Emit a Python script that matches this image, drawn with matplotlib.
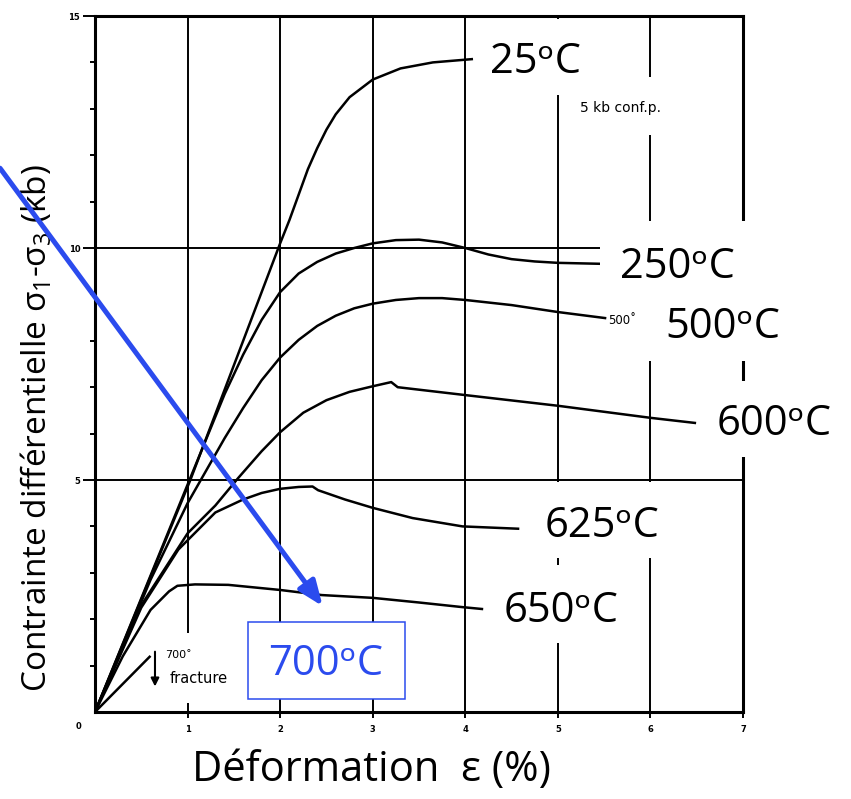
"Courbes contrainte-déformation à 5 kb de pression de confinement"

import matplotlib
matplotlib.use('Agg')
import matplotlib.pyplot as plt
from matplotlib.patches import Rectangle

plt.rcParams['font.family'] = ['Open Sans', 'DejaVu Sans']
plt.rcParams['mathtext.default'] = 'regular'

# Déformation (%) et contrainte différentielle (kb) pour chaque température
eps_25 = [0, 1.03, 2.0, 2.1, 2.2, 2.3, 2.4, 2.5, 2.6, 2.75, 3.0, 3.3, 3.65, 4.07]
sig_25 = [0, 5.0, 10.1, 10.6, 11.15, 11.7, 12.15, 12.55, 12.88, 13.25, 13.63, 13.87, 14.0, 14.07]

eps_250 = [0, 1.0, 1.4, 1.6, 1.8, 2.0, 2.2, 2.4, 2.6, 2.8, 3.0, 3.25, 3.5, 3.75,
           4.0, 4.25, 4.5, 4.75, 5.0, 5.45]
sig_250 = [0, 4.9, 6.85, 7.7, 8.45, 9.05, 9.45, 9.7, 9.88, 10.0, 10.1, 10.17, 10.18, 10.12,
           10.0, 9.86, 9.76, 9.71, 9.68, 9.66]

eps_500 = [0, 0.6, 1.0, 1.2, 1.4, 1.6, 1.8, 2.0, 2.2, 2.4, 2.6, 2.8, 3.0, 3.25, 3.5,
           3.75, 4.0, 4.5, 5.0, 5.51]
sig_500 = [0, 2.85, 4.5, 5.2, 5.9, 6.55, 7.15, 7.64, 8.02, 8.32, 8.54, 8.7, 8.8, 8.88, 8.92,
           8.92, 8.88, 8.77, 8.62, 8.49]

eps_600 = [0, 0.5, 1.0, 1.3, 1.55, 1.8, 2.0, 2.25, 2.5, 2.75, 3.0, 3.2, 3.27, 4.0, 5.0,
           6.0, 6.48]
sig_600 = [0, 2.3, 3.85, 4.45, 5.05, 5.62, 6.03, 6.45, 6.72, 6.9, 7.02, 7.11, 7.0, 6.83, 6.6,
           6.34, 6.23]

eps_625 = [0, 0.5, 0.9, 1.3, 1.6, 1.8, 2.0, 2.2, 2.35, 2.41, 2.7, 3.0, 3.43, 3.97, 4.57]
sig_625 = [0, 2.25, 3.5, 4.3, 4.58, 4.72, 4.81, 4.85, 4.86, 4.78, 4.58, 4.4, 4.18, 4.0, 3.95]

eps_650 = [0, 0.3, 0.6, 0.8, 0.89, 1.08, 1.44, 2.0, 2.45, 3.0, 3.5, 3.97, 4.18]
sig_650 = [0, 1.2, 2.2, 2.6, 2.72, 2.75, 2.74, 2.63, 2.52, 2.46, 2.36, 2.26, 2.22]

eps_700 = [0, 0.59]
sig_700 = [0, 1.19]

courbes = [(eps_25, sig_25), (eps_250, sig_250), (eps_500, sig_500),
           (eps_600, sig_600), (eps_625, sig_625), (eps_650, sig_650),
           (eps_700, sig_700)]

bleu = '#2B4BEE'

fig = plt.figure(figsize=(8.51, 7.99), dpi=100)
ax = fig.add_axes([95/851, 1 - 712/799, 648/851, 696/799])
ax.set_xlim(0, 7)
ax.set_ylim(0, 15)

# Quadrillage
for x in range(1, 7):
    ax.axvline(x, color='k', lw=1.4, zorder=1)
for y in (5, 10):
    ax.axhline(y, color='k', lw=1.4, zorder=1)

for s in ax.spines.values():
    s.set_linewidth(2.2)

ax.set_xticks(range(1, 8))
ax.set_yticks([5, 10, 15])
ax.set_yticks([v for v in range(1, 15) if v % 5], minor=True)
ax.tick_params(axis='y', which='major', length=8.6, width=1.4, pad=2, labelsize=6)
ax.tick_params(axis='y', which='minor', length=3.6, width=1.4)
ax.tick_params(axis='x', which='major', length=4, width=1.4, pad=5, labelsize=6)
for lab in ax.get_xticklabels() + ax.get_yticklabels():
    lab.set_family('DejaVu Sans')
    lab.set_fontweight('bold')
ax.text(-0.18, -0.32, '0', fontsize=6, fontweight='bold', family='DejaVu Sans',
        ha='center', va='center', clip_on=False)

# Courbes
for eps, sig in courbes:
    ax.plot(eps, sig, color='k', lw=1.8, zorder=3, solid_joinstyle='round')


def cache_blanc(x0, x1, y0, y1):
    ax.add_patch(Rectangle((x0, y0), x1 - x0, y1 - y0, facecolor='white',
                           edgecolor='none', zorder=4, clip_on=False))


# Étiquettes des températures sur fond blanc
cache_blanc(4.09, 5.40, 13.30, 14.93)
cache_blanc(5.18, 6.26, 12.44, 13.69)
cache_blanc(5.46, 7.18, 9.05, 10.58)
cache_blanc(5.95, 7.50, 7.56, 9.05)
cache_blanc(6.53, 8.05, 5.50, 7.13)
cache_blanc(4.61, 6.16, 3.32, 4.96)
cache_blanc(4.21, 5.89, 1.49, 3.17)
cache_blanc(0.70, 1.48, 0.19, 1.70)

etiquettes = [(4.27, 13.77, '25'), (5.67, 9.35, '250'), (6.16, 8.06, '500'),
              (6.72, 5.97, '600'), (4.86, 3.77, '625'), (4.41, 1.94, '650')]
for x, y, t in etiquettes:
    ax.text(x, y, t + 'ᵒC', fontsize=30, ha='left', va='baseline',
            zorder=5, clip_on=False)

ax.text(5.24, 12.93, '5 kb conf.p.', fontsize=10, family='DejaVu Sans',
        ha='left', va='baseline', zorder=5)
ax.text(5.54, 8.36, '500˚', fontsize=8.5, family='DejaVu Sans',
        ha='left', va='baseline', zorder=5)
ax.text(0.76, 1.16, '700˚', fontsize=8, family='DejaVu Sans',
        ha='left', va='baseline', zorder=5)
ax.text(0.81, 0.63, 'fracture', fontsize=10.5, family='DejaVu Sans',
        ha='left', va='baseline', zorder=5)
ax.annotate('', xy=(0.648, 0.55), xytext=(0.648, 1.3),
            arrowprops=dict(arrowstyle='-|>', color='k', lw=1.5,
                            mutation_scale=12, shrinkA=0, shrinkB=0),
            zorder=5)

# Encadré bleu et flèche pour 700 °C
ax.add_patch(Rectangle((1.65, 0.28), 1.70, 1.66, facecolor='white',
                       edgecolor=bleu, lw=1.1, zorder=4))
ax.text(1.87, 0.80, '700ᵒC', fontsize=30, color=bleu,
        ha='left', va='baseline', zorder=5)
ax.annotate('', xy=(2.46, 2.28), xytext=(-1.026, 11.72),
            arrowprops=dict(arrowstyle='-|>,head_length=0.75,head_width=0.3',
                            color=bleu, lw=3.6, mutation_scale=20,
                            shrinkA=0, shrinkB=0),
            annotation_clip=False, zorder=10)

# Titres des axes
ax.text(37/851, 1 - 428/799, 'Contrainte différentielle σ$_1$-σ$_3$ (kb)',
        transform=fig.transFigure, rotation=90, fontsize=24,
        ha='center', va='center', zorder=1, clip_on=False)
fig.text(192/851, 1 - 781/799, 'Déformation  ε (%)', fontsize=30,
         ha='left', va='baseline')

fig.savefig('out.png', dpi=100)
